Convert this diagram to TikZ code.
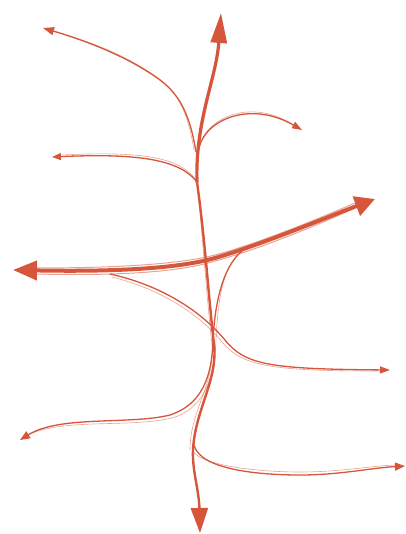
\documentclass[tikz,border=0pt]{standalone}
\usetikzlibrary{arrows.meta}
\definecolor{ink}{RGB}{214,86,60}
\begin{document}
\begin{tikzpicture}[x=1pt,y=-1pt,
  strand/.style={draw=ink, line cap=round, line join=round},
  thinline/.style={strand, line width=1.3pt},
  ghost/.style={strand, line width=0.6pt, opacity=0.55},
  smalltip/.style={-{Triangle[length=11pt,width=8pt]}}]
\useasboundingbox (0,0) rectangle (405,534);
% named end points
\coordinate (topTip) at (221,13);
\coordinate (botTip) at (200,533);
\coordinate (leftTip) at (13,270);
\coordinate (rightTip) at (375,199);
\coordinate (tlTip) at (43,28);
\coordinate (urTip) at (302,130);
\coordinate (mlTip) at (52,157);
\coordinate (mrTip) at (390,370);
\coordinate (llTip) at (20,440);
\coordinate (lrTip) at (405,466);
\coordinate (stemA) at (197,182);
\coordinate (stemB) at (214,345);
\coordinate (stemC) at (193,450);
\coordinate (hMid) at (215,258);
\coordinate (b7start) at (246,248);
\coordinate (b7mid) at (213,340);

% main stem, upper part
\draw[strand, line width=3.2pt, -{Triangle[length=30pt,width=16pt]}]
  (stemA) .. controls (195,120) and (216,80) .. (topTip);
\draw[ghost] (stemA) .. controls (198,125) and (214,85) .. (219,45);
% main stem, lower part
\draw[strand, line width=2.4pt, -{Triangle[length=25pt,width=17pt]}]
  (stemA) .. controls (205,240) and (208,290) .. (stemB)
  .. controls (218,380) and (195,410) .. (stemC)
  .. controls (192,470) and (199,490) .. (botTip);
\draw[ghost] (stemA) .. controls (203,240) and (206,290) .. (212,345)
  .. controls (215,385) and (190,410) .. (190,450);

% thick horizontal arrow
\draw[strand, line width=4pt, {Triangle[length=24pt,width=19pt]}-{Triangle[length=20pt,width=20pt]}]
  (leftTip) .. controls (120,272) and (180,268) .. (hMid)
  .. controls (260,245) and (320,220) .. (rightTip);
\draw[ghost, line width=1pt] (35,268) .. controls (120,268) and (180,264) .. (215,255)
  .. controls (260,243) and (320,218) .. (355,203);
\draw[ghost, line width=1pt] (35,274) .. controls (120,276) and (180,272) .. (215,261)
  .. controls (260,249) and (320,224) .. (355,208);

% top-left branch
\draw[thinline, smalltip] (196,152) .. controls (190,115) and (180,95) .. (160,80)
  .. controls (130,58) and (90,42) .. (tlTip);
\draw[ghost] (194,150) .. controls (188,113) and (178,92) .. (158,78)
  .. controls (128,56) and (90,41) .. (52,31);

% upper-right branch
\draw[thinline, -{Triangle[length=10pt,width=7pt]}]
  (199,148) .. controls (205,120) and (250,100) .. (urTip);
\draw[ghost] (200,145) .. controls (207,118) and (250,98) .. (292,124);

% middle-left branch
\draw[thinline, -{Triangle[length=9pt,width=7pt]}]
  (stemA) .. controls (180,160) and (140,153) .. (mlTip);
\draw[ghost] (196,180) .. controls (180,157) and (140,151) .. (62,155);

% branch from horizontal to right arrow
\draw[thinline, -{Triangle[length=10pt,width=7pt]}]
  (110,274) .. controls (160,285) and (200,310) .. (225,340)
  .. controls (245,365) and (270,369) .. (mrTip);
\draw[ghost] (112,277) .. controls (160,289) and (198,313) .. (222,342)
  .. controls (242,366) and (270,371) .. (378,371);

% branch from horizontal down to lower-left arrow
\draw[thinline, -{Triangle[length=10pt,width=8pt]}]
  (b7start) .. controls (224,262) and (215,300) .. (b7mid)
  .. controls (212,380) and (200,405) .. (170,415)
  .. controls (130,425) and (60,415) .. (llTip);
\draw[ghost] (244,250) .. controls (222,265) and (218,300) .. (216,340)
  .. controls (214,383) and (202,409) .. (172,418)
  .. controls (130,428) and (62,418) .. (28,435);

% lower-right branch
\draw[thinline, -{Triangle[length=10pt,width=8pt]}]
  (194,445) .. controls (200,470) and (260,475) .. (300,475)
  .. controls (340,475) and (370,468) .. (lrTip);
\draw[ghost] (192,450) .. controls (200,466) and (260,472) .. (300,472)
  .. controls (340,472) and (370,466) .. (395,465);
\end{tikzpicture}
\end{document}
